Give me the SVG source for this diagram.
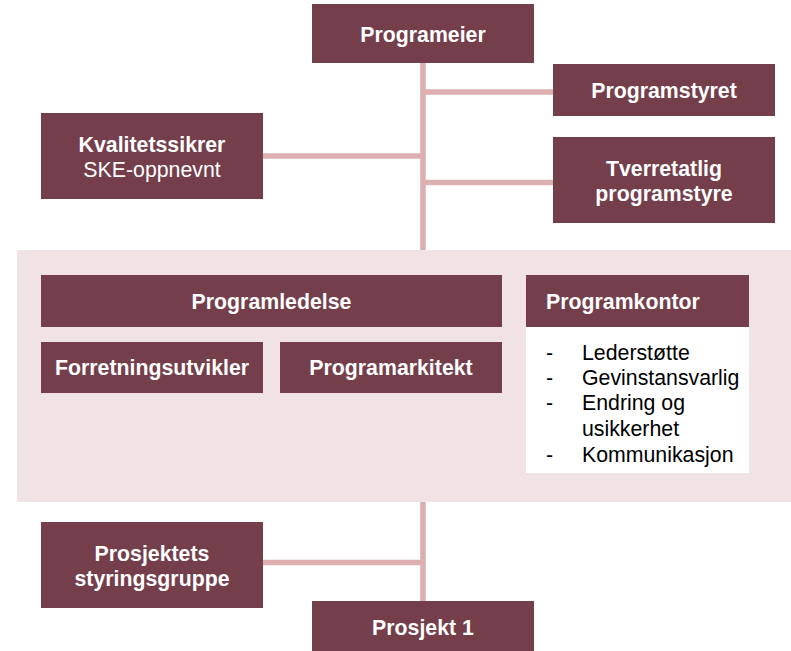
<svg xmlns="http://www.w3.org/2000/svg" width="791" height="651" viewBox="0 0 791 651">
<style>
.box{fill:#743e4b}
.t{font-family:"Liberation Sans",Arial,sans-serif;font-size:21.3px;fill:#ffffff;text-anchor:middle}
.b{font-weight:bold}
.l{font-family:"Liberation Sans",Arial,sans-serif;font-size:21.3px;fill:#000000}
.c{stroke:#dcb0b0;stroke-width:5.5;fill:none}
</style>
<rect x="0" y="0" width="791" height="651" fill="#ffffff"/>
<g id="connectors">
<line class="c" x1="423" y1="63" x2="423" y2="250"/>
<line class="c" x1="423" y1="92" x2="553" y2="92"/>
<line class="c" x1="423" y1="182.5" x2="553" y2="182.5"/>
<line class="c" x1="263" y1="156" x2="423" y2="156"/>
<line class="c" x1="423" y1="502" x2="423" y2="601"/>
<line class="c" x1="263" y1="562.5" x2="423" y2="562.5"/>
</g>
<g id="panel">
<rect x="17" y="250" width="774" height="252" fill="#f1e2e3"/>
</g>
<g id="programeier">
<rect class="box" x="312" y="4" width="222" height="59"/>
<text class="t b" x="423" y="42">Programeier</text>
</g>
<g id="programstyret">
<rect class="box" x="553" y="64" width="222" height="52"/>
<text class="t b" x="664" y="98">Programstyret</text>
</g>
<g id="tverretatlig">
<rect class="box" x="553" y="137" width="222" height="86"/>
<text class="t b" x="664" y="176">Tverretatlig</text>
<text class="t b" x="664" y="201">programstyre</text>
</g>
<g id="kvalitetssikrer">
<rect class="box" x="41" y="113" width="222" height="86"/>
<text class="t b" x="152" y="152">Kvalitetssikrer</text>
<text class="t" x="152" y="177">SKE-oppnevnt</text>
</g>
<g id="programledelse">
<rect class="box" x="41" y="275" width="461" height="52"/>
<text class="t b" x="271.5" y="309">Programledelse</text>
</g>
<g id="forretningsutvikler">
<rect class="box" x="41" y="342" width="222" height="51"/>
<text class="t b" x="152" y="375">Forretningsutvikler</text>
</g>
<g id="programarkitekt">
<rect class="box" x="280" y="342" width="222" height="51"/>
<text class="t b" x="391" y="375">Programarkitekt</text>
</g>
<g id="programkontor">
<rect x="526" y="327" width="223" height="146" fill="#ffffff"/>
<rect class="box" x="526" y="275" width="223" height="52"/>
<text class="t b" x="546" y="309" style="text-anchor:start">Programkontor</text>
<text class="l" x="546" y="360">-</text>
<text class="l" x="582" y="360">Lederstøtte</text>
<text class="l" x="546" y="385">-</text>
<text class="l" x="582" y="385">Gevinstansvarlig</text>
<text class="l" x="546" y="410">-</text>
<text class="l" x="582" y="410">Endring og</text>
<text class="l" x="582" y="436">usikkerhet</text>
<text class="l" x="546" y="462">-</text>
<text class="l" x="582" y="462">Kommunikasjon</text>
</g>
<g id="prosjektets-styringsgruppe">
<rect class="box" x="41" y="522" width="222" height="86"/>
<text class="t b" x="152" y="561">Prosjektets</text>
<text class="t b" x="152" y="586">styringsgruppe</text>
</g>
<g id="prosjekt1">
<rect class="box" x="312" y="601" width="222" height="50"/>
<text class="t b" x="423" y="635">Prosjekt 1</text>
</g>
</svg>
